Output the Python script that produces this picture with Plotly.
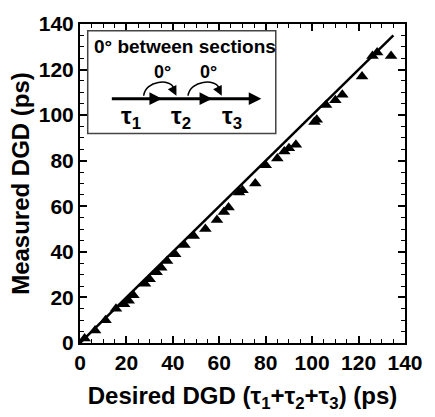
import plotly.graph_objects as go

desired = [2, 6.5, 11, 15.5, 19, 21, 23, 28, 30, 33, 35, 37.5, 41, 45, 49, 54, 59, 62, 64,
           68.5, 70, 75.5, 80, 85, 88, 90, 93, 101, 102, 106, 110, 113, 121.5, 126, 128, 134]
measured = [2, 5.5, 10, 15, 17, 18.5, 21, 26, 28, 31, 33, 36, 39, 43, 47, 50, 54, 57.5, 59.5,
            66, 67, 70, 78, 81, 84, 85.5, 87, 97, 98, 104.5, 106.5, 109, 117, 126, 127.5, 126]
ideal_x = [0, 135]
ideal_y = [0, 135]
tick_vals = [0, 20, 40, 60, 80, 100, 120, 140]
tick_text = ["0", "20", "40", "60", "80", "100", "120", "140"]

W, H = 435, 417
L, R, T, B = 80, 18, 14, 74
PW, PH = W - L - R, H - T - B

def px(x):
    return (x - L) / PW

def py(y):
    return (H - B - y) / PH

FONT = "Liberation Sans"

fig = go.Figure()
fig.add_trace(go.Scatter(x=ideal_x, y=ideal_y, mode="lines",
                         line=dict(color="black", width=2.5), showlegend=False))
fig.add_trace(go.Scatter(x=desired, y=measured, mode="markers",
                         marker=dict(symbol="triangle-up", size=11, color="black"),
                         showlegend=False))

axis_common = dict(
    range=[0, 140], tickvals=tick_vals, ticktext=["<b>%s</b>" % t for t in tick_text],
    ticks="inside", ticklen=7, tickwidth=1.5,
    tickcolor="black", showline=True, linecolor="black", linewidth=2, mirror="ticks",
    showgrid=False, zeroline=False,
    tickfont=dict(family=FONT, size=21, color="black", weight="bold"),
    minor=dict(dtick=5, ticks="inside", ticklen=4, tickwidth=1, tickcolor="black"),
)

fig.update_xaxes(**axis_common,
                 title=dict(text="<b>Desired DGD (τ<sub>1</sub>+τ<sub>2</sub>+τ<sub>3</sub>) (ps)</b>",
                            font=dict(family=FONT, size=24, color="black"),
                            standoff=14))
fig.update_yaxes(**axis_common,
                 title=dict(text="<b>Measured DGD (ps)</b>",
                            font=dict(family=FONT, size=24, color="black"),
                            standoff=2))

shapes = []
shapes.append(dict(type="rect", xref="paper", yref="paper",
                   x0=px(88), x1=px(283), y0=py(127), y1=py(21),
                   line=dict(color="#444", width=1.5), fillcolor="white", layer="above"))
shapes.append(dict(type="line", xref="paper", yref="paper",
                   x0=px(113), x1=px(258), y0=py(91), y1=py(91),
                   line=dict(color="black", width=3), layer="above"))

def tri(tipx, tipy, length, half, direction):
    dx, dy = direction
    bx, by = tipx - dx * length, tipy - dy * length
    nx, ny = -dy, dx
    p1 = (bx + nx * half, by + ny * half)
    p2 = (bx - nx * half, by - ny * half)
    return "M {} {} L {} {} L {} {} Z".format(px(tipx), py(tipy), px(p1[0]), py(p1[1]),
                                             px(p2[0]), py(p2[1]))

for tip in (165, 217, 268):
    shapes.append(dict(type="path", xref="paper", yref="paper",
                       path=tri(tip, 91, 13, 6.5, (1, 0)),
                       fillcolor="black", line=dict(color="black", width=0), layer="above"))

for sx, ex in ((146, 180), (192, 227)):
    path = "M {} {} C {} {} {} {} {} {}".format(
        px(sx), py(88), px(sx + 2), py(72), px(ex - 6), py(70), px(ex - 3), py(80))
    shapes.append(dict(type="path", xref="paper", yref="paper", path=path,
                       line=dict(color="black", width=1.5), layer="above"))
    shapes.append(dict(type="path", xref="paper", yref="paper",
                       path=tri(ex, 88, 10, 5, (0.45, 0.89)),
                       fillcolor="black", line=dict(color="black", width=0), layer="above"))

annotations = [
    dict(text="<b>0° between sections</b>", x=px(92), y=py(37), xref="paper", yref="paper",
         xanchor="left", yanchor="middle", showarrow=False,
         font=dict(family=FONT, size=19, color="black")),
    dict(text="<b>0°</b>", x=px(166), y=py(63), xref="paper", yref="paper",
         xanchor="center", yanchor="middle", showarrow=False,
         font=dict(family=FONT, size=18, color="black")),
    dict(text="<b>0°</b>", x=px(213), y=py(63), xref="paper", yref="paper",
         xanchor="center", yanchor="middle", showarrow=False,
         font=dict(family=FONT, size=18, color="black")),
]
for cx, n in ((133, 1), (185, 2), (238, 3)):
    annotations.append(dict(text="<b>τ<sub>{}</sub></b>".format(n), x=px(cx), y=py(110),
                            xref="paper", yref="paper", xanchor="center", yanchor="middle",
                            showarrow=False,
                            font=dict(family=FONT, size=24, color="black")))

fig.update_layout(
    width=W, height=H, margin=dict(l=L, r=R, t=T, b=B),
    plot_bgcolor="white", paper_bgcolor="white",
    shapes=shapes, annotations=annotations,
)

fig.write_html("out.html")
